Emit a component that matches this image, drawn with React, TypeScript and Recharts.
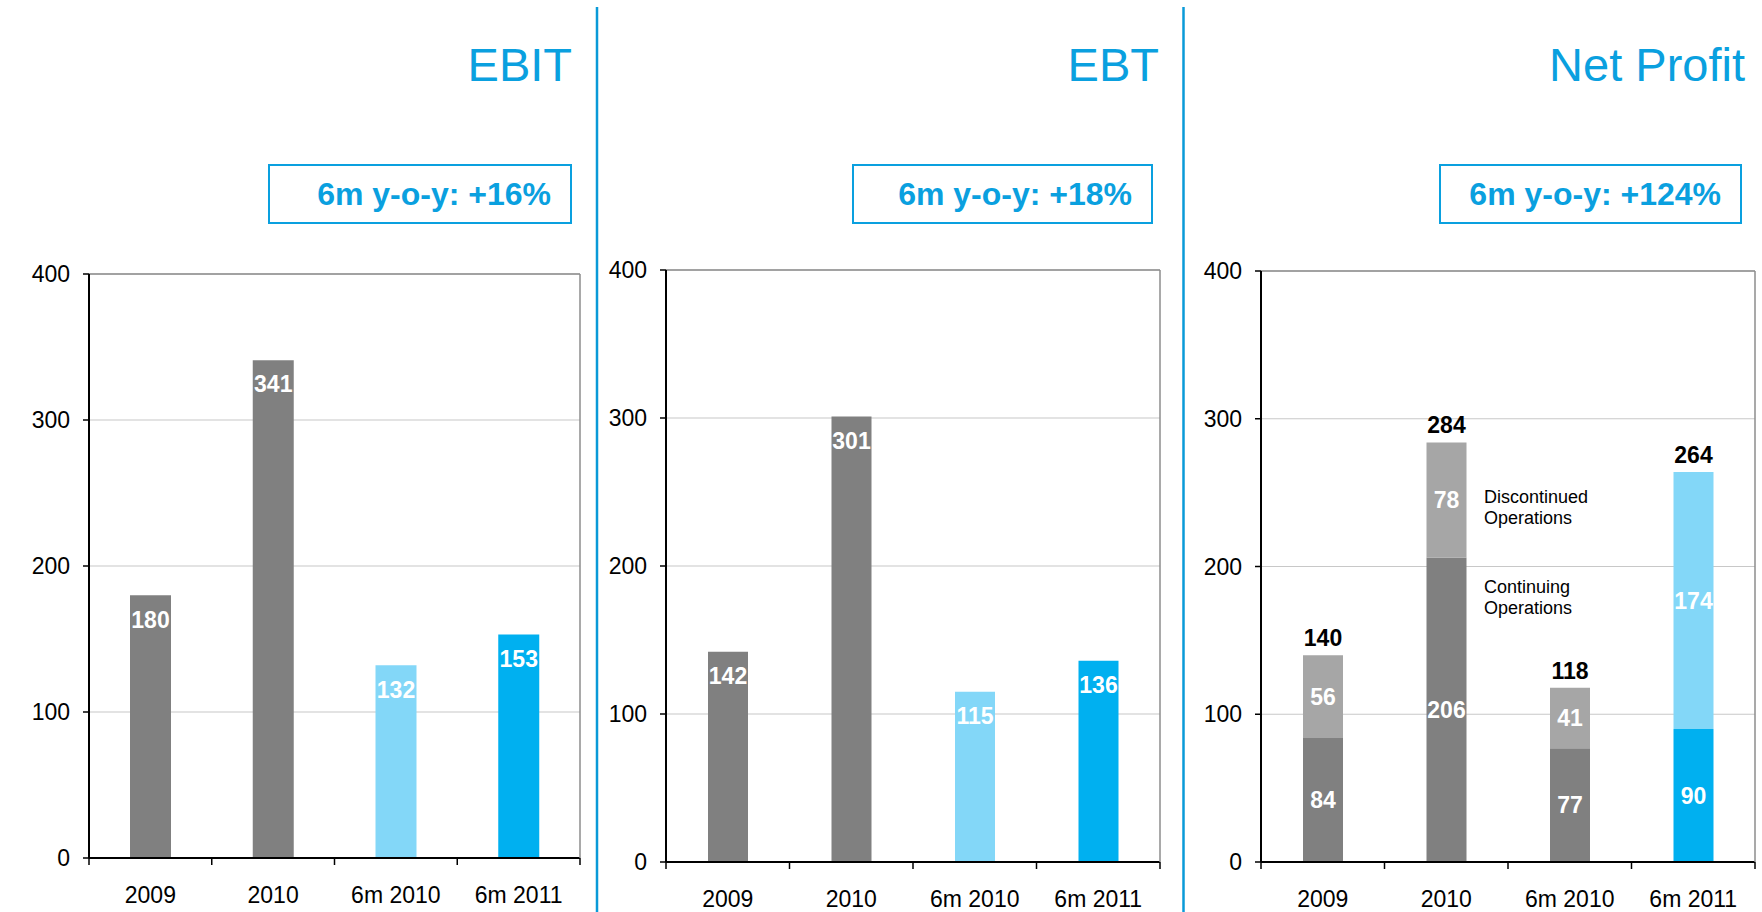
import React from 'react';
import { BarChart, Bar, XAxis, YAxis, CartesianGrid, Cell, LabelList, ReferenceLine } from 'recharts';

const categories = ['2009', '2010', '6m 2010', '6m 2011'];
const ebitValues = [180, 341, 132, 153];
const ebtValues = [142, 301, 115, 136];
const netContinuing = [84, 206, 77, 90];
const netDiscontinued = [56, 78, 41, 174];
const netTotals = [140, 284, 118, 264];
const yTicks = [0, 100, 200, 300, 400];
const panelTitles = ['EBIT', 'EBT', 'Net Profit'];
const growthLabels = ['6m y-o-y: +16%', '6m y-o-y: +18%', '6m y-o-y: +124%'];
const noteLines = [['Discontinued', 'Operations'], ['Continuing', 'Operations']];

const singleColors = ['#808080', '#808080', '#83d7f8', '#00b0f0'];
const contColors = ['#808080', '#808080', '#808080', '#00b0f0'];
const discColors = ['#a6a6a6', '#a6a6a6', '#a6a6a6', '#83d7f8'];

const FONT = '"Liberation Sans", Arial, Helvetica, sans-serif';
const BLUE = '#0aa0df';
const LINE_BLUE = '#0a9ad8';

const ebitData = categories.map((cat, i) => ({ cat, v: ebitValues[i] }));
const ebtData = categories.map((cat, i) => ({ cat, v: ebtValues[i] }));
const netData = categories.map((cat, i) => ({
  cat,
  cont: netContinuing[i],
  disc: netDiscontinued[i],
  total: netTotals[i],
}));

const Y_AXIS_W = 62;
const M = { top: 20, right: 5, left: 0, bottom: 0 };
const X_AXIS_H = 54;
const TICK_FS = 23;
const LABEL_FS = 23;

function makeXTick(half: number) {
  return (props: any) => {
    const { x, y, payload, index } = props;
    const h = payload && typeof payload.offset === 'number' && payload.offset > 0 ? payload.offset : half;
    return (
      <g>
        <line x1={x - h} y1={y} x2={x - h} y2={y + 7} stroke="#000" strokeWidth={1.5} />
        {index === categories.length - 1 && (
          <line x1={x + h} y1={y} x2={x + h} y2={y + 7} stroke="#000" strokeWidth={1.5} />
        )}
        <text x={x} y={y + 37} dy="0.35em" textAnchor="middle" fontSize={TICK_FS} fontFamily={FONT} fill="#000">
          {payload.value}
        </text>
      </g>
    );
  };
}

function commonParts(plotW: number) {
  return [
    <CartesianGrid key="g" vertical={false} stroke="#c8c8c8" strokeWidth={1.2} />,
    <ReferenceLine key="top" y={400} stroke="#8c8c8c" strokeWidth={1.5} />,
    <XAxis
      key="x"
      dataKey="cat"
      axisLine={{ stroke: '#000', strokeWidth: 2 }}
      tickLine={false}
      tickSize={0}
      tickMargin={0}
      height={X_AXIS_H}
      interval={0}
      tick={makeXTick(plotW / categories.length / 2)}
    />,
    <YAxis
      key="y"
      domain={[0, 400]}
      ticks={yTicks}
      interval={0}
      width={Y_AXIS_W}
      axisLine={{ stroke: '#000', strokeWidth: 2 }}
      tickLine={{ stroke: '#000', strokeWidth: 1.5 }}
      tickSize={6}
      tickMargin={13}
      tick={{ fontSize: TICK_FS, fill: '#000', fontFamily: FONT }}
    />,
    <YAxis
      key="yr"
      yAxisId="r"
      orientation="right"
      domain={[0, 400]}
      ticks={yTicks}
      tick={false}
      tickLine={false}
      width={1}
      axisLine={{ stroke: '#8c8c8c', strokeWidth: 1.5 }}
    />,
  ];
}

function SinglePanel({ data, left, top, plotW, plotH, barSize }: any) {
  const width = M.left + Y_AXIS_W + plotW + 1 + M.right;
  const height = M.top + plotH + X_AXIS_H + M.bottom;
  return (
    <div style={{ position: 'absolute', left, top, width, height }}>
      <BarChart width={width} height={height} data={data} margin={M} barSize={barSize}>
        {commonParts(plotW)}
        <Bar dataKey="v" isAnimationActive={false}>
          {data.map((_: any, i: number) => (
            <Cell key={i} fill={singleColors[i]} />
          ))}
          <LabelList
            dataKey="v"
            position="insideTop"
            offset={16}
            fill="#fff"
            fontSize={LABEL_FS}
            fontWeight="bold"
            fontFamily={FONT}
          />
        </Bar>
      </BarChart>
    </div>
  );
}

function NetPanel({ left, top, plotW, plotH, barSize }: any) {
  const width = M.left + Y_AXIS_W + plotW + 1 + M.right;
  const height = M.top + plotH + X_AXIS_H + M.bottom;
  return (
    <div style={{ position: 'absolute', left, top, width, height }}>
      <BarChart width={width} height={height} data={netData} margin={M} barSize={barSize}>
        {commonParts(plotW)}
        <Bar dataKey="cont" stackId="a" isAnimationActive={false}>
          {netData.map((_, i) => (
            <Cell key={i} fill={contColors[i]} />
          ))}
          <LabelList dataKey="cont" position="center" fill="#fff" fontSize={LABEL_FS} fontWeight="bold" fontFamily={FONT} />
        </Bar>
        <Bar dataKey="disc" stackId="a" isAnimationActive={false}>
          {netData.map((_, i) => (
            <Cell key={i} fill={discColors[i]} />
          ))}
          <LabelList dataKey="disc" position="center" fill="#fff" fontSize={LABEL_FS} fontWeight="bold" fontFamily={FONT} />
          <LabelList dataKey="total" position="top" offset={9} fill="#000" fontSize={LABEL_FS} fontWeight="bold" fontFamily={FONT} />
        </Bar>
      </BarChart>
    </div>
  );
}

export default function App() {
  const titleRight = [572, 1159, 1745];
  const boxes = [
    { x: 269, w: 302, tr: 551 },
    { x: 853, w: 299, tr: 1132 },
    { x: 1440, w: 301, tr: 1721 },
  ];
  return (
    <div style={{ position: 'absolute', left: 0, top: 0, width: 1762, height: 912, background: '#fff', overflow: 'hidden' }}>
      <svg width={1762} height={912} style={{ position: 'absolute', left: 0, top: 0 }}>
        <line x1={597} y1={7} x2={597} y2={912} stroke={LINE_BLUE} strokeWidth={2.5} />
        <line x1={1183.5} y1={7} x2={1183.5} y2={912} stroke={LINE_BLUE} strokeWidth={2.5} />
        {panelTitles.map((t, i) => (
          <text key={t} x={titleRight[i]} y={81} textAnchor="end" fontSize={47} fontFamily={FONT} fill={BLUE}>
            {t}
          </text>
        ))}
        {boxes.map((b, i) => (
          <g key={i}>
            <rect x={b.x} y={165} width={b.w} height={58} fill="none" stroke={BLUE} strokeWidth={2} />
            <text x={b.tr} y={205} textAnchor="end" fontSize={32} fontWeight="bold" fontFamily={FONT} fill={BLUE}>
              {growthLabels[i]}
            </text>
          </g>
        ))}
        <text x={1484} y={503} fontSize={18} fontFamily={FONT} fill="#000">{noteLines[0][0]}</text>
        <text x={1484} y={524} fontSize={18} fontFamily={FONT} fill="#000">{noteLines[0][1]}</text>
        <text x={1484} y={593} fontSize={18} fontFamily={FONT} fill="#000">{noteLines[1][0]}</text>
        <text x={1484} y={614} fontSize={18} fontFamily={FONT} fill="#000">{noteLines[1][1]}</text>
      </svg>
      <SinglePanel data={ebitData} left={89 - Y_AXIS_W} top={274 - M.top} plotW={491} plotH={584} barSize={41} />
      <SinglePanel data={ebtData} left={666 - Y_AXIS_W} top={270 - M.top} plotW={494} plotH={592} barSize={40} />
      <NetPanel left={1261 - Y_AXIS_W} top={271 - M.top} plotW={494} plotH={591} barSize={40} />
    </div>
  );
}
